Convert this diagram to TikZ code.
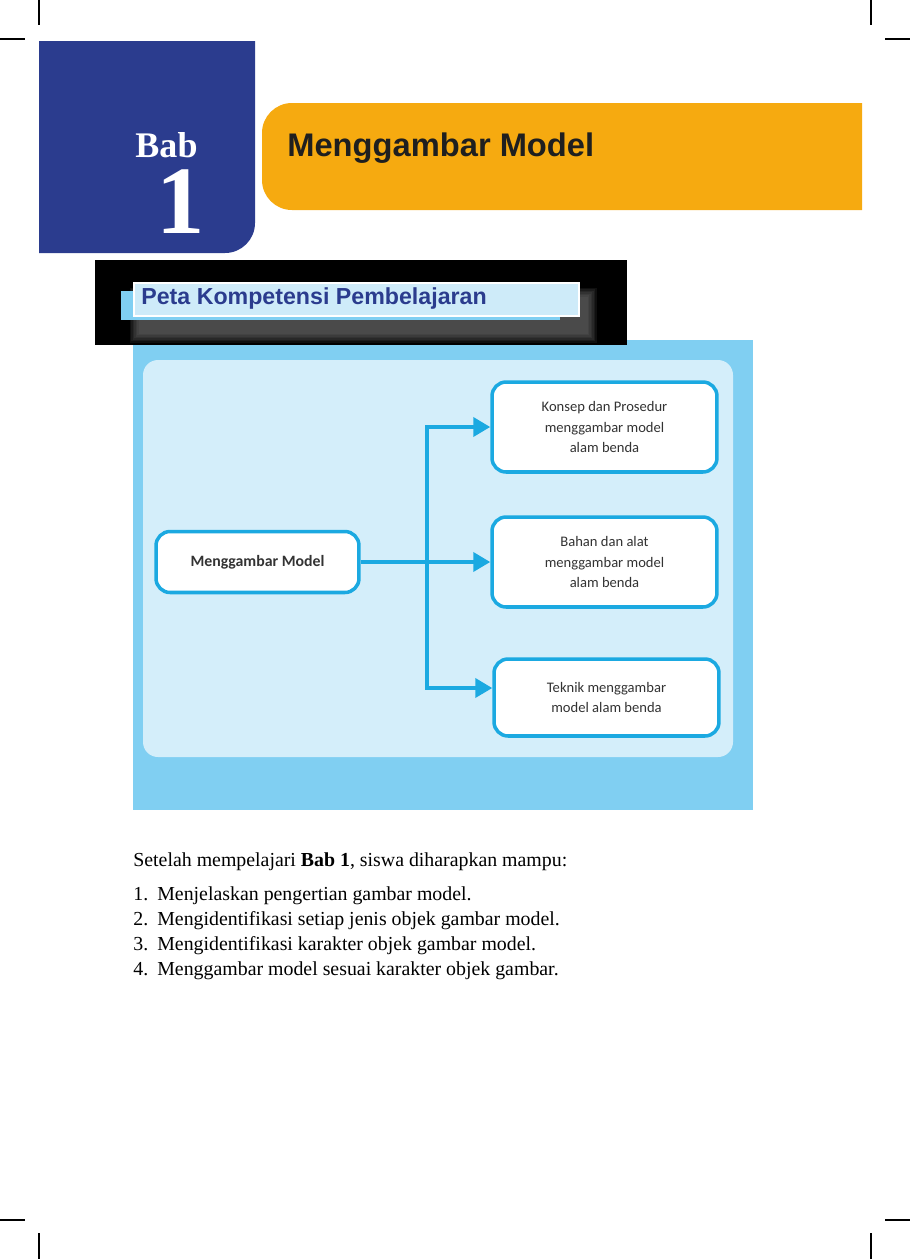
\documentclass[tikz,border=0pt]{standalone}
\usepackage{fontspec}
\setmainfont{Liberation Serif}
\setsansfont{Liberation Sans}
\newfontfamily\boxfont{Carlito}
\usepackage{tikz}
\usetikzlibrary{arrows.meta,positioning,calc}
\definecolor{babblue}{RGB}{43,60,142}
\definecolor{babgold}{RGB}{246,170,16}
\definecolor{sky}{RGB}{128,207,242}
\definecolor{skylight}{RGB}{212,238,250}
\definecolor{headfill}{RGB}{206,235,249}
\definecolor{rim}{RGB}{27,169,225}
\definecolor{ink}{RGB}{51,51,51}
\tikzset{
  item/.style ={draw=rim,line width=2pt,rounded corners=8pt,fill=white,
                align=center,text=ink,minimum width=4.5cm,
                font=\boxfont\fontsize{8.3}{11.4}\selectfont},
  ar/.style   ={draw=rim,line width=2.2pt,-{Triangle[length=0.34cm,width=0.38cm]}},
  body/.style ={inner sep=0pt,anchor=base west,font=\fontsize{11.3}{14}\selectfont},
  crop/.style ={line width=0.6pt},
}
\newcommand{\li}[2]{\makebox[0.48cm][l]{#1.}#2}

\begin{document}
\begin{tikzpicture}[x=0.02cm,y=-0.02cm]
\useasboundingbox (0,0) rectangle (910,1259);
% crop marks
\draw[crop] (39,0) -- (39,25) (0,39) -- (25,39);
\draw[crop] (871,0) -- (871,25) (885,39) -- (910,39);
\draw[crop] (0,1220) -- (25,1220) (39,1233) -- (39,1259);
\draw[crop] (885,1220) -- (910,1220) (871,1233) -- (871,1259);
% chapter tab
\fill[babblue] (39,41) -- (255,41) [rounded corners=0.6cm]-- (255,253) [sharp corners]-- (39,253) -- cycle;
\fill[babgold] (862,103) [rounded corners=0.6cm]-- (262,103) -- (262,210) [sharp corners]-- (862,210) -- cycle;
\node[inner sep=0pt,anchor=base,text=white,text depth=0pt,font=\bfseries\fontsize{20.5}{20}\selectfont] (BAB) at (166.5,157) {Bab};
\node[inner sep=0pt,anchor=base,text=white,text height=36pt,text depth=0pt,font=\bfseries\fontsize{55}{55}\selectfont] (NUM) at (181,233) {1};
\node[inner sep=0pt,anchor=base west,text=black!88,font=\sffamily\bfseries\fontsize{18.6}{20}\selectfont] (TITLE) at (287,156) {Menggambar Model};
% map panel
\fill[sky] (133,340) rectangle (753,810);
\fill[skylight,rounded corners=0.3cm] (143,360) rectangle (733,757);
\fill[black] (95,260) rectangle (627,345);
\foreach \r in {1,...,7}
  \fill[gray,opacity=0.12] (140-\r*1.5,298-\r*1.5) rectangle (586+\r*1.5,332+\r*1.5);
\fill[sky] (121,291) rectangle (560,320);
\node[draw=white,line width=1.2pt,fill=headfill,inner sep=0pt,minimum width=8.9cm,minimum height=0.66cm,
      anchor=north west] (HEAD) at (133,282) {};
\node[inner sep=0pt,anchor=base west,text=babblue,font=\sffamily\bfseries\fontsize{13.2}{14}\selectfont] (PETA) at (141,304) {Peta Kompetensi Pembelajaran};
% nodes
\node[item,minimum width=4.06cm,minimum height=1.22cm,font=\boxfont\bfseries\fontsize{9}{11}\selectfont] (MM) at (257.5,562) {Menggambar Model};
\node[item,minimum height=1.8cm] (B1) at (604.5,427) {Konsep dan Prosedur\\menggambar model\\alam benda};
\node[item,minimum height=1.8cm] (B2) at (604.5,562) {Bahan dan alat\\menggambar model\\alam benda};
\node[item,minimum height=1.54cm] (B3) at (606.5,697.5) {Teknik menggambar\\model alam benda};
\coordinate (J) at (427,562);
% edges
\draw[ar] (MM) -- (B2);
\draw[ar] (J) |- (B1.west);
\draw[ar] (J) |- ([yshift=0.19cm]B3.west);
% objectives
\node[body] (INTRO) at (133,866) {Setelah mempelajari \textbf{Bab 1}, siswa diharapkan mampu:};
\node[body] (L1) at (133,900) {\li{1}{Menjelaskan pengertian gambar model.}};
\node[body] (L2) at (133,925) {\li{2}{Mengidentifikasi setiap jenis objek gambar model.}};
\node[body] (L3) at (133,950) {\li{3}{Mengidentifikasi karakter objek gambar model.}};
\node[body] (L4) at (133,975) {\li{4}{Menggambar model sesuai karakter objek gambar.}};
\end{tikzpicture}
\end{document}
